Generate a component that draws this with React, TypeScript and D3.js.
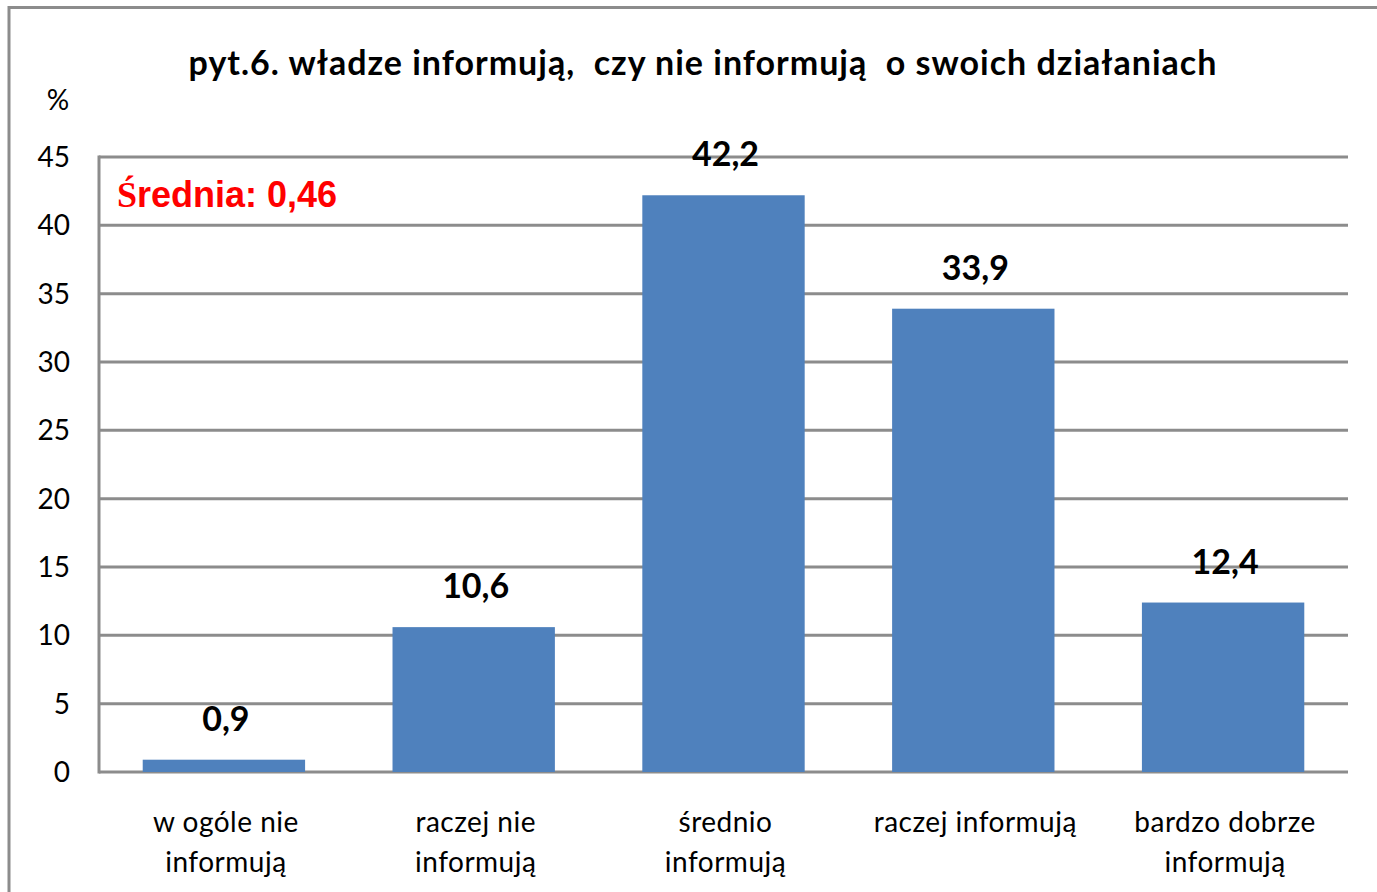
import React, { useEffect, useRef } from 'react';
import * as d3 from 'd3';

const categories = ['w ogóle nie|informują', 'raczej nie|informują', 'średnio|informują', 'raczej informują', 'bardzo dobrze|informują'];
const values = [0.9, 10.6, 42.2, 33.9, 12.4];
const valueLabels = ['0,9', '10,6', '42,2', '33,9', '12,4'];
const yTicks = [0, 5, 10, 15, 20, 25, 30, 35, 40, 45];

const App: React.FC = () => {
  const ref = useRef<SVGSVGElement | null>(null);

  useEffect(() => {
    if (!ref.current) return;
    const svg = d3.select(ref.current);
    svg.selectAll('*').remove();

    const W = 1377;
    const H = 892;
    const left = 99, right = 1348, top = 157, bottom = 772;
    const font = 'Lato, "Open Sans", sans-serif';

    // outer frame
    svg.append('rect')
      .attr('x', 9).attr('y', 7.5)
      .attr('width', W).attr('height', H)
      .attr('fill', 'white')
      .attr('stroke', '#8c8c8c')
      .attr('stroke-width', 3);

    const x = d3.scaleBand().domain(categories).range([left, right]).paddingInner(0.35).paddingOuter(0.175);
    const y = d3.scaleLinear().domain([0, 45]).range([bottom, top]);

    // gridlines
    svg.append('g')
      .selectAll('line')
      .data(yTicks)
      .enter().append('line')
      .attr('x1', left).attr('x2', right)
      .attr('y1', (d) => y(d)).attr('y2', (d) => y(d))
      .attr('stroke', '#8c8c8c')
      .attr('stroke-width', 3);

    // left axis line
    svg.append('line')
      .attr('x1', left).attr('x2', left)
      .attr('y1', top - 1.5).attr('y2', bottom + 1.5)
      .attr('stroke', '#8c8c8c')
      .attr('stroke-width', 3);

    // tick labels
    svg.append('g')
      .selectAll('text')
      .data(yTicks)
      .enter().append('text')
      .attr('x', 70)
      .attr('y', (d) => y(d) + 10)
      .attr('text-anchor', 'end')
      .style('font-family', font)
      .style('font-size', '28px')
      .style('fill', '#000')
      .text((d) => d);

    svg.append('text')
      .attr('x', 58).attr('y', 110)
      .attr('text-anchor', 'middle')
      .style('font-family', font)
      .style('font-size', '28px')
      .text('%');

    // bars
    svg.append('g')
      .selectAll('rect')
      .data(values)
      .enter().append('rect')
      .attr('x', (_, i) => x(categories[i]) || 0)
      .attr('y', (d) => y(d))
      .attr('width', x.bandwidth())
      .attr('height', (d) => bottom - y(d))
      .attr('fill', '#4f81bd');

    // value labels
    svg.append('g')
      .selectAll('text')
      .data(values)
      .enter().append('text')
      .attr('x', (_, i) => (x(categories[i]) || 0) + x.bandwidth() / 2 + 2)
      .attr('y', (d) => y(d) - 29)
      .attr('text-anchor', 'middle')
      .style('font-family', font)
      .style('font-weight', 'bold')
      .style('font-size', '34px')
      .text((_, i) => valueLabels[i]);

    // category labels
    const cat = svg.append('g')
      .selectAll('text')
      .data(categories)
      .enter().append('text')
      .attr('x', (d) => (x(d) || 0) + x.bandwidth() / 2 + 2)
      .attr('y', 832)
      .attr('text-anchor', 'middle')
      .style('font-family', font)
      .style('font-size', '28px')
      .style('letter-spacing', '0.5px');
    cat.each(function (d) {
      const parts = d.split('|');
      const t = d3.select(this);
      parts.forEach((p, j) => {
        t.append('tspan')
          .attr('x', t.attr('x'))
          .attr('dy', j === 0 ? 0 : 40)
          .text(p);
      });
    });

    // title
    svg.append('text')
      .attr('x', 703).attr('y', 75)
      .attr('text-anchor', 'middle')
      .attr('xml:space', 'preserve')
      .style('white-space', 'pre')
      .style('font-family', font)
      .style('font-weight', 'bold')
      .style('font-size', '34px')
      .style('letter-spacing', '1px')
      .text('pyt.6. władze informują,  czy nie informują  o swoich działaniach');

    const avg = svg.append('text')
      .attr('x', 117).attr('y', 207)
      .style('font-family', '"Liberation Sans", Arial, sans-serif')
      .style('font-weight', 'bold')
      .style('font-size', '36px')
      .style('fill', '#ff0000');
    avg.append('tspan')
      .style('font-family', '"Liberation Serif", serif')
      .text('Ś');
    avg.append('tspan').text('rednia: 0,46');
  }, []);

  return (
    <svg
      ref={ref}
      width={1377}
      height={892}
      style={{ position: 'absolute', left: 0, top: 0 }}
    />
  );
};

export default App;
